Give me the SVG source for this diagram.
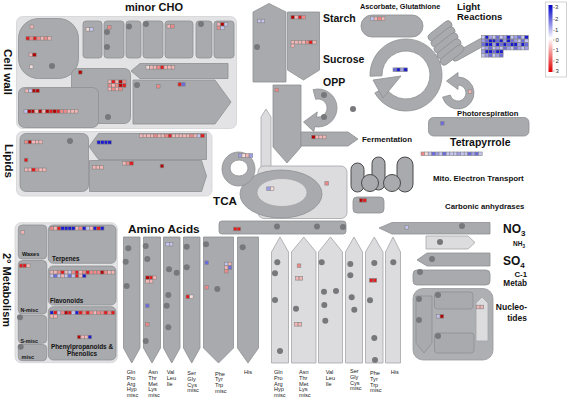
<svg xmlns="http://www.w3.org/2000/svg" width="567" height="401" viewBox="0 0 567 401">
<defs>
<style>
.pan{fill:#e3e3e5;stroke:#d3d3d6;stroke-width:.8}
.bx{fill:#a9aaad;stroke:#8e8f92;stroke-width:.8}
.lt{fill:#dcdcdf;stroke:#a4a5a8;stroke-width:.8}
.np{fill:#aeafb2;stroke:#9a9b9e;stroke-width:.8}
.dk{fill:#a9aaad;stroke:#4a4a4c;stroke-width:1}
.t{font-family:"Liberation Sans",Arial,Helvetica,sans-serif;font-weight:bold;fill:#111}
.a{font-family:"Liberation Sans",Arial,Helvetica,sans-serif;font-size:5.6px;fill:#222}
.lg{font-family:"Liberation Sans",Arial,Helvetica,sans-serif;font-size:6px;fill:#333}
.dr{fill:#b50000}.r{fill:#e31a1c}.s{fill:#f08888}.p{fill:#f5b5b5}.lp{fill:#f7dcdc}
.lb{fill:#c5c5f2}.mb{fill:#9d9deb}.b{fill:#6b6be0}.db{fill:#1a1ad0}
</style>
<rect id="s" width="3.6" height="3.6" stroke="#858585" stroke-width=".6"/>
<circle id="o" r="3" fill="#77787b"/>
<linearGradient id="lg" x1="0" y1="0" x2="0" y2="1">
<stop offset="0" stop-color="#0000c8"/><stop offset=".5" stop-color="#ffffff"/><stop offset="1" stop-color="#e00000"/>
</linearGradient>
</defs>
<rect width="567" height="401" fill="#ffffff"/>

<g id="cell-wall">
<rect class="pan" x="16.5" y="16.5" width="220" height="112" rx="6"/>
<rect class="bx" x="18.5" y="18.5" width="60" height="60" rx="20"/>
<rect class="bx" x="71.5" y="68.5" width="59" height="55" rx="6"/>
<rect class="bx" x="18.5" y="87.5" width="80" height="40" rx="6"/>
<use href="#o" x="52" y="66"/><use href="#o" x="108" y="117"/>
<g transform="translate(30,25)"><use href="#s" class="p"/></g>
<g transform="translate(26,36.5)"><use href="#s" class="r"/><use href="#s" class="s" x="3.6"/><use href="#s" class="r" x="7.2"/><use href="#s" class="s" x="10.8"/><use href="#s" class="p" x="14.4"/><use href="#s" class="s" x="18"/><use href="#s" class="p" x="21.6"/></g>
<g transform="translate(29,53)"><use href="#s" class="p"/><use href="#s" class="dr" x="3.6"/></g>
<g transform="translate(29.5,65)"><use href="#s" class="lp"/></g>
<g transform="translate(78.5,70.5)"><use href="#s" class="dr"/></g>
<g transform="translate(108,80)"><use href="#s" class="p"/><use href="#s" class="r" x="3.6"/><use href="#s" class="p" x="7.2"/><use href="#s" class="dr" x="10.8"/><use href="#s" class="s" x="14.4"/>
<use href="#s" class="s" y="3.6"/><use href="#s" class="p" x="3.6" y="3.6"/><use href="#s" class="s" x="7.2" y="3.6"/><use href="#s" class="dr" x="10.8" y="3.6"/><use href="#s" class="r" x="14.4" y="3.6"/>
<use href="#s" class="p" y="7.2"/><use href="#s" class="s" x="3.6" y="7.2"/><use href="#s" class="p" x="7.2" y="7.2"/><use href="#s" class="s" x="10.8" y="7.2"/></g>
<g transform="translate(25,89)"><use href="#s" class="p"/><use href="#s" class="lb" x="3.6"/><use href="#s" class="dr" x="7.2"/><use href="#s" class="dr" x="10.8"/></g>
<g transform="translate(24,109.5)"><use href="#s" class="lb"/><use href="#s" class="dr" x="3.6"/><use href="#s" class="dr" x="7.2"/><use href="#s" class="p" x="10.8"/><use href="#s" class="dr" x="14.4"/><use href="#s" class="p" x="18"/><use href="#s" class="dr" x="21.6"/><use href="#s" class="r" x="25.2"/><use href="#s" class="dr" x="28.8"/><use href="#s" class="r" x="32.4"/><use href="#s" class="s" x="36"/><use href="#s" class="s" x="39.6"/><use href="#s" class="p" x="43.2"/><use href="#s" class="p" x="46.8"/><use href="#s" class="p" x="50.4"/></g>
<text class="t" font-size="11.5" text-anchor="middle" transform="translate(4,72) rotate(90)">Cell wall</text>
</g>

<g id="minor-cho">
<rect class="bx" x="83" y="21" width="19" height="37" rx="3"/>
<rect class="bx" x="104" y="21" width="20" height="37" rx="3"/>
<rect class="bx" x="126" y="21" width="15" height="37" rx="3"/>
<rect class="bx" x="143" y="21" width="20" height="37" rx="3"/>
<rect class="bx" x="165" y="21" width="28" height="37" rx="3"/>
<rect class="bx" x="196" y="21" width="16" height="37" rx="3"/>
<rect class="bx" x="214" y="21" width="20" height="37" rx="3"/>
<path class="bx" d="M131,71 L140,63.5 L228,63.5 L228,78.5 L140,78.5 Z"/>
<path class="bx" d="M133,80 L215,80 L231,102 L215,124 L133,124 Z"/>
<use href="#o" x="107" y="32"/><use href="#o" x="107" y="47"/><use href="#o" x="129" y="26.5"/><use href="#o" x="146" y="24"/><use href="#o" x="201" y="24"/><use href="#o" x="137" y="85"/>
<g transform="translate(86,27.5)"><use href="#s" class="lp"/><use href="#s" class="lb" x="3.6"/></g>
<g transform="translate(107.5,25.5)"><use href="#s" class="s"/></g>
<g transform="translate(167,24.5)"><use href="#s" class="p"/><use href="#s" class="s" x="3.6"/></g>
<g transform="translate(217,22.5)"><use href="#s" class="p"/><use href="#s" class="dr" x="3.6"/><use href="#s" class="lb" x="7.2"/><use href="#s" class="s" y="3.6"/><use href="#s" class="lb" x="3.6" y="3.6"/></g>
<g transform="translate(146,65.5)"><use href="#s" class="lp"/><use href="#s" class="p" x="3.6"/><use href="#s" class="p" x="7.2"/><use href="#s" class="s" x="10.8"/><use href="#s" class="r" x="14.4"/><use href="#s" class="p" x="18"/><use href="#s" class="p" x="21.6"/><use href="#s" class="p" x="25.2"/></g>
<g transform="translate(156.5,84.5)"><use href="#s" class="s"/></g>
<g transform="translate(178,82.5)"><use href="#s" class="r"/><use href="#s" class="b" x="3.6"/></g>
<text class="t" x="125" y="11" font-size="11">minor CHO</text>
</g>

<g id="lipids">
<rect class="pan" x="16.5" y="131.5" width="195.5" height="64.5" rx="6"/>
<rect class="bx" x="20" y="133.5" width="68.5" height="58" rx="6"/>
<path class="bx" d="M89,146.5 L98.5,133.5 L206.5,133.5 L206.5,159.5 L98.5,159.5 Z"/>
<path class="bx" d="M89.5,160.5 L201.5,160.5 L206.5,176 L201.5,191.5 L89.5,191.5 Z"/>
<use href="#o" x="70" y="141"/>
<g transform="translate(24.5,140.2)"><use href="#s" class="s"/><use href="#s" class="dr" x="3.6"/><use href="#s" class="p" x="7.2"/><use href="#s" class="p" x="10.8"/><use href="#s" class="p" x="14.4"/></g>
<g transform="translate(24.2,158.2)"><use href="#s" class="r"/></g>
<g transform="translate(24.5,168)"><use href="#s" class="p"/><use href="#s" class="p" x="3.6"/><use href="#s" class="r" x="7.2"/><use href="#s" class="s" x="10.8"/><use href="#s" class="p" x="14.4"/><use href="#s" class="p" x="18"/></g>
<g transform="translate(97,140.5)"><use href="#s" class="db"/><use href="#s" class="db" x="3.6"/><use href="#s" class="db" x="7.2"/><use href="#s" class="db" x="10.8"/></g>
<g transform="translate(139.5,134)"><use href="#s" class="p"/><use href="#s" class="p" x="3.6"/><use href="#s" class="p" x="7.2"/><use href="#s" class="p" x="10.8"/><use href="#s" class="s" x="14.4"/><use href="#s" class="p" x="18"/><use href="#s" class="p" x="21.6"/><use href="#s" class="s" x="25.2"/><use href="#s" class="r" x="28.8"/><use href="#s" class="p" x="32.4"/><use href="#s" class="p" x="36"/><use href="#s" class="p" x="39.6"/><use href="#s" class="p" x="43.2"/><use href="#s" class="p" x="46.8"/><use href="#s" class="s" x="50.4"/><use href="#s" class="p" x="54"/><use href="#s" class="lb" x="57.6"/><use href="#s" class="r" x="61.2"/></g>
<g transform="translate(92.5,165.5)"><use href="#s" class="p"/><use href="#s" class="p" x="3.6"/><use href="#s" class="p" x="7.2"/></g>
<g transform="translate(122.5,161.5)"><use href="#s" class="p"/><use href="#s" class="s" x="3.6"/><use href="#s" class="r" x="7.2"/></g>
<g transform="translate(160.2,164.2)"><use href="#s" class="dr"/></g>
<text class="t" font-size="11.5" text-anchor="middle" transform="translate(5,161) rotate(90)">Lipids</text>
</g>

<g id="starch">
<path class="bx" d="M253,12 L269,3.5 L286,12 L286,82 L253,82 Z"/>
<use href="#o" x="257" y="47"/>
<g transform="translate(257.5,19.2)"><use href="#s" class="lb"/><use href="#s" class="lb" x="3.6"/></g>
<text class="t" x="323" y="21.5" font-size="10.5">Starch</text>
</g>

<g id="sucrose">
<path class="bx" d="M287.5,12 L319.5,12 L319.5,70 L303.5,80 L287.5,70 Z"/>
<g transform="translate(291,15.4)"><use href="#s" class="dr"/><use href="#s" class="p" x="3.6"/><use href="#s" class="r" x="7.2"/><use href="#s" class="s" x="10.8"/></g>
<g transform="translate(291,40.4)"><use href="#s" class="p"/><use href="#s" class="p" x="3.6"/><use href="#s" class="p" x="7.2"/><use href="#s" class="p" x="10.8"/><use href="#s" class="s" x="14.4"/><use href="#s" class="r" x="18"/><use href="#s" class="p" x="21.6"/><use href="#s" class="p" y="3.6"/></g>
<text class="t" x="323" y="63.3" font-size="10.5">Sucrose</text>
</g>

<g id="glycolysis">
<path class="lt" d="M261,168 L261,117 L266,109 L271,117 L271,168 Z"/>
<path class="bx" d="M273,85 L301,85 L301,147 L287,163 L273,147 Z"/>
<g transform="translate(275,88.2)"><use href="#s" class="s"/></g>
</g>

<g id="opp">
<path class="bx" d="M313.08,89.65 A19,19 0 1 1 314.70,126.71 L313.83,131.64 L303.5,122 L317.31,111.94 L316.44,116.86 A9,9 0 1 0 315.67,99.31 Z"/>
<use href="#o" x="324" y="95"/><use href="#o" x="324" y="117"/><use href="#o" x="353" y="109"/>
<text class="t" x="323" y="85.5" font-size="10.5">OPP</text>
</g>

<g id="fermentation">
<path class="bx" d="M301,132 L348,132 L358,139 L348,146 L301,146 Z"/>
<g transform="translate(311.7,135.2)"><use href="#s" class="dr"/><use href="#s" class="p" x="3.6"/><use href="#s" class="p" x="7.2"/><use href="#s" class="p" x="10.8"/></g>
<text class="t" x="362" y="141.5" font-size="7.9">Fermentation</text>
</g>

<g id="ascorbate">
<rect class="bx" x="361" y="15" width="62" height="22" rx="11"/>
<g transform="translate(370.5,16.9)"><use href="#s" class="lb"/><use href="#s" class="p" x="3.6"/><use href="#s" class="s" x="7.2"/><use href="#s" class="p" x="10.8"/></g>
<text class="t" x="360" y="8.5" font-size="7.3">Ascorbate, Glutathione</text>
</g>

<g id="light-reactions">
<rect class="bx" x="-19.5" y="-4" width="39" height="8" rx="4" transform="translate(469,49.5) rotate(-29)"/>
<rect class="bx" x="-14" y="-4" width="28" height="8" rx="4" transform="translate(440,31) rotate(-38)"/>
<rect class="bx" x="-14" y="-4" width="28" height="8" rx="4" transform="translate(443,37) rotate(-38)"/>
<rect class="bx" x="-14" y="-4" width="28" height="8" rx="4" transform="translate(446,43) rotate(-38)"/>
<rect class="bx" x="-14" y="-4" width="28" height="8" rx="4" transform="translate(449,49) rotate(-38)"/>
<rect class="bx" x="-14" y="-4" width="28" height="8" rx="4" transform="translate(452,55) rotate(-38)"/>
<g transform="translate(481.5,35.5)">
<use href="#s" class="lb"/><use href="#s" class="db" x="3.6"/><use href="#s" class="mb" x="7.2"/><use href="#s" class="lb" x="10.8"/><use href="#s" class="b" x="14.4"/><use href="#s" class="lb" x="18"/><use href="#s" class="mb" x="21.6"/><use href="#s" class="db" x="25.2"/><use href="#s" class="lb" x="28.8"/><use href="#s" class="mb" x="32.4"/><use href="#s" class="b" x="36"/><use href="#s" class="lb" x="39.6"/><use href="#s" class="db" x="43.2"/>
<use href="#s" class="mb" y="3.6"/><use href="#s" class="b" x="3.6" y="3.6"/><use href="#s" class="db" x="7.2" y="3.6"/><use href="#s" class="db" x="10.8" y="3.6"/><use href="#s" class="b" x="14.4" y="3.6"/><use href="#s" class="db" x="18" y="3.6"/><use href="#s" class="mb" x="21.6" y="3.6"/><use href="#s" class="db" x="25.2" y="3.6"/><use href="#s" class="b" x="28.8" y="3.6"/><use href="#s" class="mb" x="32.4" y="3.6"/><use href="#s" class="lb" x="36" y="3.6"/><use href="#s" class="b" x="39.6" y="3.6"/><use href="#s" class="lb" x="43.2" y="3.6"/>
<use href="#s" class="b" y="7.2"/><use href="#s" class="db" x="3.6" y="7.2"/><use href="#s" class="db" x="7.2" y="7.2"/><use href="#s" class="mb" x="10.8" y="7.2"/><use href="#s" class="db" x="14.4" y="7.2"/><use href="#s" class="b" x="18" y="7.2"/><use href="#s" class="db" x="21.6" y="7.2"/><use href="#s" class="b" x="25.2" y="7.2"/><use href="#s" class="db" x="28.8" y="7.2"/><use href="#s" class="db" x="32.4" y="7.2"/><use href="#s" class="mb" x="36" y="7.2"/><use href="#s" class="db" x="39.6" y="7.2"/><use href="#s" class="b" x="43.2" y="7.2"/>
<use href="#s" class="lb" y="10.8"/><use href="#s" class="mb" x="3.6" y="10.8"/><use href="#s" class="b" x="7.2" y="10.8"/><use href="#s" class="lb" x="10.8" y="10.8"/><use href="#s" class="mb" x="14.4" y="10.8"/><use href="#s" class="lb" x="18" y="10.8"/><use href="#s" class="b" x="21.6" y="10.8"/><use href="#s" class="mb" x="25.2" y="10.8"/><use href="#s" class="lb" x="28.8" y="10.8"/><use href="#s" class="b" x="32.4" y="10.8"/><use href="#s" class="mb" x="36" y="10.8"/><use href="#s" class="lb" x="39.6" y="10.8"/><use href="#s" class="mb" x="43.2" y="10.8"/>
<use href="#s" class="mb" y="14.4"/><use href="#s" class="db" x="3.6" y="14.4"/><use href="#s" class="db" x="7.2" y="14.4"/><use href="#s" class="b" x="10.8" y="14.4"/><use href="#s" class="db" x="14.4" y="14.4"/><use href="#s" class="db" x="18" y="14.4"/>
<use href="#s" class="lb" y="18"/><use href="#s" class="mb" x="3.6" y="18"/><use href="#s" class="b" x="7.2" y="18"/><use href="#s" class="lb" x="10.8" y="18"/><use href="#s" class="mb" x="14.4" y="18"/><use href="#s" class="b" x="18" y="18"/>
</g>
<text class="t" x="457" y="9.5" font-size="9.5">Light</text>
<text class="t" x="457" y="19.5" font-size="9.5">Reactions</text>
</g>

<g id="calvin-cycle">
<path class="bx" d="M370.02,76.26 A36,36 0 1 1 374.82,93 L385.22,87 A24,24 0 1 0 382.01,75.84 Z"/>
<path class="bx" d="M373,80 L401,76 L383,98 Z"/>
<g transform="translate(393,67.9)"><use href="#s" class="b"/><use href="#s" class="db" x="3.6"/><use href="#s" class="mb" x="7.2"/><use href="#s" class="db" x="10.8"/></g>
</g>

<g id="photorespiration">
<path class="bx" d="M458,85 L458,89.5 L446.5,81 L458,72.5 L458,77 A16,16 0 1 1 442.55,97.14 L450.27,95.07 A8,8 0 1 0 458,85 Z"/>
<g transform="translate(468.2,89.9)"><use href="#s" class="p"/></g>
<text class="t" x="457" y="115.5" font-size="7.7">Photorespiration</text>
<rect class="bx" x="428.5" y="117.5" width="100.5" height="18.5" rx="5"/>
<g transform="translate(440.5,121.5)"><use href="#s" class="b"/></g>
</g>

<g id="tetrapyrrole">
<text class="t" x="450" y="145.5" font-size="10.5">Tetrapyrrole</text>
<g transform="translate(421,152)"><use href="#s" class="s"/><use href="#s" class="lp" x="3.6"/><use href="#s" class="lb" x="7.2"/><use href="#s" class="b" x="10.8"/><use href="#s" class="mb" x="14.4"/><use href="#s" class="lb" x="18"/><use href="#s" class="b" x="21.6"/><use href="#s" class="lb" x="25.2"/><use href="#s" class="lb" x="28.8"/><use href="#s" class="lb" x="32.4"/><use href="#s" class="mb" x="36"/><use href="#s" class="lb" x="39.6"/><use href="#s" class="lb" x="43.2"/><use href="#s" class="b" x="46.8"/><use href="#s" class="mb" x="50.4"/><use href="#s" class="b" x="54"/><use href="#s" class="lb" x="57.6"/></g>
</g>

<g id="tca">
<rect class="lt" x="258" y="166" width="89" height="52.5" rx="6"/>
<ellipse class="bx" cx="281" cy="194" rx="41" ry="24"/>
<ellipse class="lt" cx="282" cy="192.5" rx="25" ry="14"/>
<path class="bx" fill-rule="evenodd" d="M222,169 a16.5,17 0 1 0 33,0 a16.5,17 0 1 0 -33,0 Z M230,168 a9,8 0 1 0 18,0 a9,8 0 1 0 -18,0 Z"/>
<g transform="translate(238.3,153.7)"><use href="#s" class="mb"/><use href="#s" class="lp" x="3.6"/><use href="#s" class="p" x="7.2"/><use href="#s" class="mb" x="10.8"/></g>
<g transform="translate(266.7,186.9)"><use href="#s" class="mb"/><use href="#s" class="lp" x="3.6"/></g>
<g transform="translate(324.9,181.5)"><use href="#s" class="s"/></g>
<text class="t" x="213" y="205" font-size="11.7">TCA</text>
</g>

<g id="mito-electron-transport">
<rect class="dk" x="351" y="163" width="13" height="29" rx="6.5"/>
<rect class="dk" x="372" y="157" width="13" height="33" rx="6.5"/>
<rect class="dk" x="397" y="157" width="16" height="35" rx="8"/>
<circle class="dk" cx="370" cy="183" r="8.5"/>
<circle class="dk" cx="392" cy="183" r="8.5"/>
<rect class="bx" x="353" y="197" width="31" height="16" rx="4"/>
<g transform="translate(359.3,198.5)"><use href="#s" class="dr"/><use href="#s" class="r" x="3.6"/></g>
<text class="t" x="433" y="181" font-size="7.9">Mito. Electron Transport</text>
</g>

<g id="carbonic-anhydrases">
<text class="t" x="445" y="209" font-size="7.8">Carbonic anhydrases</text>
</g>

<g id="amino-acids">
<path class="bx" d="M123.5,237 L140,237 L140,348 L131.75,363 L123.5,348 Z"/>
<path class="bx" d="M143.5,237 L160.5,237 L160.5,348 L152,363 L143.5,348 Z"/>
<path class="bx" d="M163.5,237 L180,237 L180,348 L171.75,363 L163.5,348 Z"/>
<path class="bx" d="M183.5,237 L200,237 L200,348 L191.75,363 L183.5,348 Z"/>
<path class="bx" d="M203.5,237 L233.5,237 L233.5,348 L218.5,363 L203.5,348 Z"/>
<path class="bx" d="M237.5,237 L258.5,237 L258.5,348 L248,363 L237.5,348 Z"/>
<path class="lt" d="M271.5,363 L271.5,252 L280,237 L288.5,252 L288.5,363 Z"/>
<path class="lt" d="M291.5,363 L291.5,252 L303.75,237 L316,252 L316,363 Z"/>
<path class="lt" d="M318.5,363 L318.5,252 L330.5,237 L342.5,252 L342.5,363 Z"/>
<path class="lt" d="M345.5,363 L345.5,252 L354,237 L362.5,252 L362.5,363 Z"/>
<path class="lt" d="M365.5,363 L365.5,252 L374.25,237 L383,252 L383,363 Z"/>
<path class="lt" d="M385.5,363 L385.5,252 L393,237 L400.5,252 L400.5,363 Z"/>
<use href="#o" x="128.3" y="248.3"/><use href="#o" x="125.7" y="261.7"/><use href="#o" x="126.7" y="286"/>
<use href="#o" x="145.7" y="246"/><use href="#o" x="147.3" y="259"/><use href="#o" x="145.7" y="341"/>
<use href="#o" x="169" y="269.3"/><use href="#o" x="176.7" y="272.7"/><use href="#o" x="168.3" y="295"/><use href="#o" x="166.7" y="305.7"/><use href="#o" x="168.3" y="327.3"/>
<use href="#o" x="186.7" y="246.7"/><use href="#o" x="186.7" y="267.3"/>
<use href="#o" x="206" y="244.3"/><use href="#o" x="217.3" y="289"/>
<use href="#o" x="242.7" y="247.3"/>
<use href="#o" x="277.3" y="262.3"/><use href="#o" x="275" y="273.3"/><use href="#o" x="275" y="300"/><use href="#o" x="280" y="351"/>
<use href="#o" x="296" y="308.7"/>
<use href="#o" x="321.7" y="262.3"/><use href="#o" x="324" y="291.7"/><use href="#o" x="336" y="291"/><use href="#o" x="324.3" y="305"/><use href="#o" x="325.3" y="320.7"/>
<use href="#o" x="350.3" y="264"/><use href="#o" x="350.3" y="275.3"/><use href="#o" x="351.7" y="297.3"/><use href="#o" x="354.3" y="309.7"/>
<use href="#o" x="374.3" y="263"/><use href="#o" x="370" y="300.3"/><use href="#o" x="374.3" y="338"/><use href="#o" x="375" y="360"/>
<use href="#o" x="393.3" y="262.3"/>
<g transform="translate(145.7,275.9)"><use href="#s" class="dr"/><use href="#s" class="r" x="3.6"/><use href="#s" class="p" x="7.2"/><use href="#s" class="p" y="3.6"/><use href="#s" class="p" x="3.6" y="3.6"/></g>
<g transform="translate(145.5,303.9)"><use href="#s" class="b"/></g>
<g transform="translate(145.5,322.5)"><use href="#s" class="s"/></g>
<g transform="translate(165.7,242.4)"><use href="#s" class="lb"/><use href="#s" class="lb" x="3.6"/></g>
<g transform="translate(186,294.9)"><use href="#s" class="r"/><use href="#s" class="lp" x="3.6"/></g>
<g transform="translate(204.9,260.9)"><use href="#s" class="b"/></g>
<g transform="translate(204.9,285.5)"><use href="#s" class="s"/></g>
<g transform="translate(224.5,262.2)"><use href="#s" class="lb"/><use href="#s" class="p" x="3.6"/><use href="#s" class="p" y="3.6"/><use href="#s" class="b" x="3.6" y="3.6"/><use href="#s" class="s" y="7.2"/></g>
<g transform="translate(297.2,263.9)"><use href="#s" class="s"/></g>
<g transform="translate(295.5,276.5)"><use href="#s" class="p"/><use href="#s" class="p" x="3.6"/></g>
<g transform="translate(294.5,322.5)"><use href="#s" class="p"/><use href="#s" class="p" x="3.6"/></g>
<g transform="translate(369.5,278.5)"><use href="#s" class="r"/><use href="#s" class="r" x="3.6"/></g>
<text class="t" x="128" y="232.5" font-size="11.8">Amino Acids</text>
<text class="a" x="126.7" y="374"><tspan x="126.7">Gln</tspan><tspan x="126.7" dy="5.8">Pro</tspan><tspan x="126.7" dy="5.8">Arg</tspan><tspan x="126.7" dy="5.8">Hyp</tspan><tspan x="126.7" dy="5.8">misc</tspan></text>
<text class="a" x="148.3" y="374"><tspan x="148.3">Asn</tspan><tspan x="148.3" dy="5.8">Thr</tspan><tspan x="148.3" dy="5.8">Met</tspan><tspan x="148.3" dy="5.8">Lys</tspan><tspan x="148.3" dy="5.8">misc</tspan></text>
<text class="a" x="166.7" y="374"><tspan x="166.7">Val</tspan><tspan x="166.7" dy="5.8">Leu</tspan><tspan x="166.7" dy="5.8">Ile</tspan></text>
<text class="a" x="187.3" y="375"><tspan x="187.3">Ser</tspan><tspan x="187.3" dy="5.8">Gly</tspan><tspan x="187.3" dy="5.8">Cys</tspan><tspan x="187.3" dy="5.8">misc</tspan></text>
<text class="a" x="215" y="375.5"><tspan x="215">Phe</tspan><tspan x="215" dy="5.8">Tyr</tspan><tspan x="215" dy="5.8">Trp</tspan><tspan x="215" dy="5.8">misc</tspan></text>
<text class="a" x="244" y="374">His</text>
<text class="a" x="274" y="374"><tspan x="274">Gln</tspan><tspan x="274" dy="5.8">Pro</tspan><tspan x="274" dy="5.8">Arg</tspan><tspan x="274" dy="5.8">Hyp</tspan><tspan x="274" dy="5.8">misc</tspan></text>
<text class="a" x="299" y="374"><tspan x="299">Asn</tspan><tspan x="299" dy="5.8">Thr</tspan><tspan x="299" dy="5.8">Met</tspan><tspan x="299" dy="5.8">Lys</tspan><tspan x="299" dy="5.8">misc</tspan></text>
<text class="a" x="325.7" y="374"><tspan x="325.7">Val</tspan><tspan x="325.7" dy="5.8">Leu</tspan><tspan x="325.7" dy="5.8">Ile</tspan></text>
<text class="a" x="350" y="373"><tspan x="350">Ser</tspan><tspan x="350" dy="5.8">Gly</tspan><tspan x="350" dy="5.8">Cys</tspan><tspan x="350" dy="5.8">misc</tspan></text>
<text class="a" x="370" y="375"><tspan x="370">Phe</tspan><tspan x="370" dy="5.8">Tyr</tspan><tspan x="370" dy="5.8">Trp</tspan><tspan x="370" dy="5.8">misc</tspan></text>
<text class="a" x="390.7" y="374">His</text>
</g>

<g id="no3">
<rect class="bx" x="219" y="221" width="127" height="13" rx="3"/>
<use href="#o" x="277" y="226.5"/><use href="#o" x="317" y="226.5"/><use href="#o" x="343" y="227"/>
<g transform="translate(233.5,227.2)"><use href="#s" class="r"/><use href="#s" class="r" x="3.6"/></g>
<path class="bx" d="M379,228 L392,222.5 L490,222.5 L490,234 L392,234 Z"/>
<use href="#o" x="462" y="226"/>
<g transform="translate(405,225.5)"><use href="#s" class="lb"/></g>
<text class="t" x="503" y="233" font-size="12">NO<tspan font-size="8" dy="3">3</tspan></text>
</g>

<g id="nh3">
<path class="lt" d="M426,236 L468,236 L475,242.5 L468,249 L426,249 Z"/>
<use href="#o" x="440" y="242"/>
<text class="t" x="513" y="246" font-size="6.5">NH<tspan font-size="4.5" dy="1.5">3</tspan></text>
</g>

<g id="so4">
<path class="bx" d="M417,260 L427,253 L490,253 L490,266 L427,266 Z"/>
<use href="#o" x="432" y="259"/>
<text class="t" x="503" y="265" font-size="12">SO<tspan font-size="8" dy="3">4</tspan></text>
</g>

<g id="c1-metab">
<rect class="bx" x="413" y="270" width="77" height="15" rx="4"/>
<use href="#o" x="420" y="272"/>
<text class="t" x="527" y="277" font-size="7.8" text-anchor="end">C-1</text>
<text class="t" x="527" y="285.8" font-size="8.2" text-anchor="end">Metab</text>
</g>

<g id="nucleotides">
<rect class="np" x="413" y="288.5" width="80" height="71.5" rx="10"/>
<path class="bx" d="M416,296 L432,296 L432,343 L424,353 L416,343 Z"/>
<rect class="bx" x="434.5" y="292" width="38.5" height="17" rx="3"/>
<rect class="bx" x="434.5" y="333" width="39.5" height="20" rx="3"/>
<path class="lt" d="M476,341 L476,303 L482,297 L488,303 L488,341 Z"/>
<use href="#o" x="419" y="299"/><use href="#o" x="419" y="320"/><use href="#o" x="438" y="295"/><use href="#o" x="438" y="336"/>
<g transform="translate(436.5,314.5)"><use href="#s" class="lb"/><use href="#s" class="dr" x="3.6"/></g>
<g transform="translate(476.5,305.2)"><use href="#s" class="p"/><use href="#s" class="p" x="3.6"/></g>
<text class="t" x="527" y="310" font-size="8.5" text-anchor="end">Nucleo-</text>
<text class="t" x="527" y="320.5" font-size="8.5" text-anchor="end">tides</text>
</g>

<g id="secondary-metabolism">
<rect class="pan" x="15" y="222.7" width="102.3" height="140" rx="6"/>
<rect class="bx" x="18.3" y="225" width="28.4" height="34" rx="4"/>
<rect class="bx" x="48.3" y="225" width="67.7" height="38.3" rx="5"/>
<rect class="bx" x="18.3" y="260.5" width="28.4" height="53.5" rx="4"/>
<rect class="bx" x="48.3" y="266" width="67.7" height="39" rx="5"/>
<rect class="bx" x="18.3" y="315.3" width="28.4" height="28" rx="4"/>
<rect class="bx" x="48.3" y="306.7" width="67.7" height="53.3" rx="5"/>
<rect class="bx" x="18.3" y="344.5" width="28.4" height="16.2" rx="4"/>
<use href="#o" x="20" y="317.3"/><use href="#o" x="20.7" y="346.7"/>
<g transform="translate(20.9,230.5)"><use href="#s" class="p"/></g>
<g transform="translate(50,226.5)"><use href="#s" class="s"/><use href="#s" class="p" x="3.6"/><use href="#s" class="r" x="7.2"/><use href="#s" class="db" x="10.8"/><use href="#s" class="db" x="14.4"/><use href="#s" class="db" x="18"/><use href="#s" class="db" x="21.6"/><use href="#s" class="p" x="25.2"/><use href="#s" class="s" x="28.8"/><use href="#s" class="db" x="32.4"/><use href="#s" class="lb" x="36"/><use href="#s" class="p" x="39.6"/><use href="#s" class="db" x="43.2"/><use href="#s" class="r" x="46.8"/><use href="#s" class="db" x="50.4"/></g>
<g transform="translate(19.3,263.9)"><use href="#s" class="r"/><use href="#s" class="r" x="3.6"/><use href="#s" class="p" x="7.2"/></g>
<g transform="translate(50,270.5)"><use href="#s" class="p"/><use href="#s" class="p" x="3.6"/><use href="#s" class="s" x="7.2"/><use href="#s" class="r" x="10.8"/><use href="#s" class="p" x="14.4"/><use href="#s" class="lb" x="18"/><use href="#s" class="s" x="21.6"/><use href="#s" class="r" x="25.2"/><use href="#s" class="p" x="28.8"/><use href="#s" class="s" x="32.4"/><use href="#s" class="r" x="36"/><use href="#s" class="s" x="39.6"/><use href="#s" class="s" x="43.2"/><use href="#s" class="s" x="46.8"/><use href="#s" class="dr" x="50.4"/><use href="#s" class="s" x="54"/><use href="#s" class="p" x="57.6"/><use href="#s" class="p" x="61.2"/>
<use href="#s" class="lb" y="3.6"/><use href="#s" class="b" x="3.6" y="3.6"/><use href="#s" class="lb" x="7.2" y="3.6"/><use href="#s" class="p" x="10.8" y="3.6"/><use href="#s" class="lb" x="14.4" y="3.6"/><use href="#s" class="b" x="18" y="3.6"/><use href="#s" class="lb" x="21.6" y="3.6"/><use href="#s" class="r" x="25.2" y="3.6"/><use href="#s" class="p" x="28.8" y="3.6"/><use href="#s" class="db" x="32.4" y="3.6"/></g>
<g transform="translate(50,310.9)"><use href="#s" class="db"/><use href="#s" class="r" x="3.6"/><use href="#s" class="lb" x="7.2"/><use href="#s" class="s" x="10.8"/><use href="#s" class="dr" x="14.4"/><use href="#s" class="r" x="18"/><use href="#s" class="lb" x="21.6"/><use href="#s" class="db" x="25.2"/><use href="#s" class="r" x="28.8"/><use href="#s" class="s" x="32.4"/><use href="#s" class="r" x="36"/><use href="#s" class="s" x="39.6"/><use href="#s" class="p" x="43.2"/><use href="#s" class="s" x="46.8"/><use href="#s" class="s" x="50.4"/><use href="#s" class="r" x="54"/><use href="#s" class="s" x="57.6"/><use href="#s" class="r" x="61.2"/>
<use href="#s" class="p" y="3.6"/><use href="#s" class="p" x="3.6" y="3.6"/></g>
<g transform="translate(77.3,335.2)"><use href="#s" class="dr"/><use href="#s" class="p" x="3.6"/><use href="#s" class="p" x="7.2"/><use href="#s" class="db" x="10.8"/></g>
<text class="t" x="22" y="255.7" font-size="5.5">Waxes</text>
<text class="t" x="52" y="260.7" font-size="6.3">Terpenes</text>
<text class="t" x="20.5" y="312.3" font-size="5.3">N-misc</text>
<text class="t" x="50" y="303.3" font-size="6.3">Flavonoids</text>
<text class="t" x="20.5" y="342.5" font-size="5.3">S-misc</text>
<text class="t" x="82" y="349" font-size="6.4" text-anchor="middle">Phenylpropanoids &amp;</text>
<text class="t" x="82" y="356.3" font-size="6.4" text-anchor="middle">Phenolics</text>
<text class="t" x="21.5" y="359.3" font-size="5.5">misc</text>
<text class="t" font-size="11" text-anchor="middle" transform="translate(2.5,290) rotate(90)">2° Metabolism</text>
</g>

<g id="legend">
<rect x="545.5" y="2" width="21" height="75" fill="#ffffff" stroke="#c8c8c8" stroke-width=".8"/>
<rect x="548.5" y="5" width="4" height="67" fill="url(#lg)"/>
<text class="lg" x="553" y="9">-3</text>
<text class="lg" x="553" y="21">-2</text>
<text class="lg" x="553" y="31.5">-1</text>
<g stroke="#777" stroke-width=".6"><line x1="553" y1="40" x2="554.6" y2="40"/><line x1="553" y1="49.5" x2="554.6" y2="49.5"/><line x1="553" y1="61" x2="554.6" y2="61"/><line x1="553" y1="71" x2="554.6" y2="71"/></g>
<text class="lg" x="555.6" y="42">0</text>
<text class="lg" x="555.6" y="51.5">1</text>
<text class="lg" x="555.6" y="63">2</text>
<text class="lg" x="555.6" y="73">3</text>
</g>

<g id="connectors"/>
</svg>
